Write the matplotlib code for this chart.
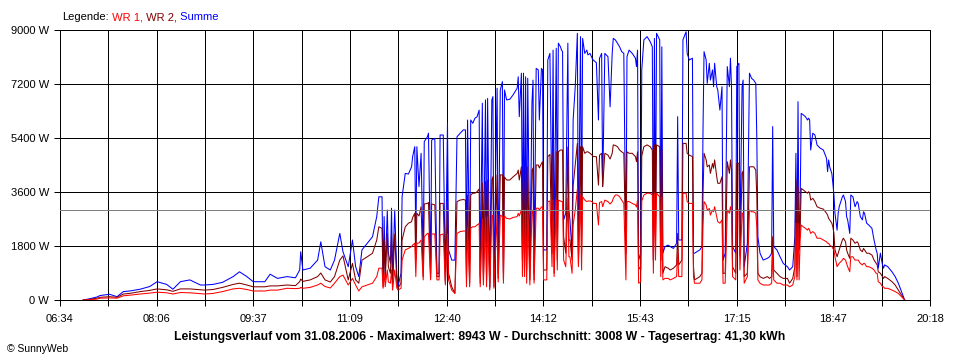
import matplotlib
matplotlib.use("Agg")
import matplotlib.pyplot as plt
import numpy as np

# sample times (HH:MM) and power in W
times = [
    "06:56", "07:02", "07:09", "07:12", "07:21", "07:28", "07:34", "07:40", "07:50", "07:59",
    "08:06", "08:15", "08:21", "08:28", "08:37", "08:47", "08:51", "08:59", "09:08", "09:18",
    "09:24", "09:31", "09:37", "09:48", "09:53", "10:00", "10:09", "10:17", "10:21", "10:22",
    "10:24", "10:31", "10:38", "10:41", "10:45", "10:50", "10:54", "10:59", "11:02", "11:07",
    "11:11", "11:14", "11:17", "11:20", "11:25", "11:30", "11:34", "11:36", "11:39", "11:40",
    "11:41", "11:42", "11:44", "11:45", "11:47", "11:48", "11:49", "11:51", "11:53", "11:54",
    "11:57", "11:58", "12:01", "12:04", "12:07", "12:08", "12:10", "12:11", "12:12", "12:14",
    "12:16", "12:18", "12:19", "12:22", "12:23", "12:25", "12:26", "12:29", "12:31", "12:33",
    "12:34", "12:37", "12:39", "12:41", "12:42", "12:45", "12:48", "12:50", "12:53", "12:56",
    "12:58", "12:59", "13:00", "13:02", "13:03", "13:05", "13:07", "13:09", "13:11", "13:12",
    "13:14", "13:15", "13:17", "13:18", "13:19", "13:21", "13:23", "13:24", "13:25", "13:28",
    "13:29", "13:31", "13:33", "13:34", "13:35", "13:37", "13:40", "13:43", "13:47", "13:48",
    "13:49", "13:51", "13:52", "13:53", "13:54", "13:55", "13:56", "13:57", "13:59", "14:01",
    "14:02", "14:03", "14:05", "14:07", "14:08", "14:10", "14:11", "14:12", "14:15", "14:16",
    "14:18", "14:20", "14:21", "14:22", "14:24", "14:25", "14:26", "14:28", "14:29", "14:30",
    "14:31", "14:33", "14:35", "14:36", "14:37", "14:39", "14:40", "14:42", "14:44", "14:45",
    "14:47", "14:48", "14:49", "14:51", "14:53", "14:54", "14:56", "14:58", "14:59", "15:02",
    "15:04", "15:05", "15:07", "15:08", "15:10", "15:13", "15:15", "15:17", "15:18", "15:20",
    "15:22", "15:24", "15:26", "15:28", "15:30", "15:31", "15:33", "15:36", "15:39", "15:40",
    "15:41", "15:42", "15:44", "15:45", "15:47", "15:50", "15:53", "15:55", "15:56", "15:57",
    "15:58", "15:59", "16:02", "16:03", "16:04", "16:05", "16:07", "16:10", "16:12", "16:15",
    "16:18", "16:19", "16:20", "16:23", "16:24", "16:27", "16:28", "16:30", "16:33", "16:34",
    "16:35", "16:40", "16:42", "16:43", "16:44", "16:46", "16:47", "16:49", "16:50", "16:52",
    "16:53", "16:54", "16:56", "16:57", "16:59", "17:01", "17:02", "17:04", "17:06", "17:08",
    "17:09", "17:10", "17:11", "17:14", "17:15", "17:17", "17:18", "17:20", "17:21", "17:22",
    "17:25", "17:27", "17:29", "17:31", "17:33", "17:34", "17:35", "17:37", "17:40", "17:44",
    "17:46", "17:48", "17:49", "17:50", "17:53", "17:56", "17:59", "18:03", "18:05", "18:08",
    "18:10", "18:11", "18:12", "18:13", "18:14", "18:15", "18:16", "18:18", "18:20", "18:22",
    "18:23", "18:24", "18:25", "18:27", "18:29", "18:31", "18:34", "18:37", "18:40", "18:41",
    "18:42", "18:43", "18:45", "18:46", "18:47", "18:48", "18:50", "18:51", "18:52", "18:55",
    "18:56", "18:58", "18:59", "19:00", "19:02", "19:03", "19:05", "19:07", "19:09", "19:10",
    "19:12", "19:14", "19:15", "19:16", "19:18", "19:20", "19:23", "19:25", "19:27", "19:28",
    "19:29", "19:31", "19:33", "19:34", "19:35", "19:38", "19:42", "19:45", "19:48", "19:51",
    "19:54",
]

summe = [
    0, 40, 100, 150, 190, 110, 280, 300, 360, 450,
    610, 520, 360, 610, 670, 500, 500, 520, 590, 780,
    940, 780, 610, 610, 860, 720, 780, 740, 1000, 1610,
    1000, 1060, 1330, 1940, 1110, 1000, 1330, 2220, 1610, 1110,
    2000, 1110, 780, 1670, 1890, 2110, 2780, 3440, 3440, 670,
    2780, 890, 3000, 1560, 1220, 3060, 780, 3000, 890, 440,
    890, 3440, 4220, 4200, 4440, 4780, 5110, 1890, 5110, 3780,
    4890, 1330, 5280, 5440, 5560, 890, 5330, 5390, 890, 890,
    5500, 5500, 670, 5890, 1670, 1330, 1330, 5440, 5560, 5670,
    5670, 1560, 6000, 1330, 6000, 5890, 6060, 6110, 6330, 780,
    6560, 890, 6670, 670, 6720, 440, 6670, 6780, 670, 7060,
    890, 7000, 7280, 890, 7000, 6670, 6690, 6830, 7060, 7440,
    6110, 7560, 1890, 7560, 1560, 7440, 1330, 7390, 1110, 6560,
    7330, 890, 7720, 7670, 6000, 7720, 7670, 1670, 1670, 8000,
    8220, 2670, 8330, 1560, 8390, 2440, 8560, 8440, 8330, 8280,
    2670, 2890, 8560, 3000, 2670, 1560, 6000, 7110, 8890, 1560,
    8780, 2110, 8720, 8220, 8330, 8170, 8220, 8060, 8000, 7910,
    6000, 8060, 8220, 3780, 8220, 8110, 6440, 8220, 8720, 8670,
    8560, 8440, 8280, 8220, 1560, 8110, 8330, 8220, 8060, 7780,
    8330, 1330, 1560, 7670, 8670, 8780, 8610, 8440, 1330, 8720,
    2330, 8890, 8670, 1330, 8440, 1560, 1780, 1830, 1780, 1720,
    1890, 6110, 2000, 2000, 8670, 8943, 8220, 8000, 8060, 1560,
    1560, 1670, 1780, 5670, 8280, 8000, 7220, 7890, 7330, 7670,
    7110, 7890, 7110, 7000, 6330, 7110, 1330, 1560, 7780, 7110,
    8060, 7110, 1780, 1560, 7780, 7890, 2000, 7110, 7330, 1110,
    1890, 7560, 7390, 7330, 7220, 5330, 2110, 1560, 1330, 1390,
    1440, 1560, 5780, 1780, 1670, 1440, 1220, 1110, 1000, 1110,
    2110, 4890, 1560, 6610, 1670, 3110, 6220, 6170, 6110, 6000,
    6060, 6000, 5000, 5560, 5500, 5170, 5060, 5000, 4720, 4280,
    4670, 4440, 4220, 3890, 3500, 2890, 2330, 2890, 3110, 3440,
    3500, 3280, 2780, 2670, 2220, 3500, 3440, 3110, 3280, 3220,
    2780, 2670, 2940, 2890, 2560, 2500, 2390, 2000, 1670, 1560,
    1060, 1560, 1170, 1060, 1170, 1110, 940, 780, 560, 280,
    0,
]

wr2 = [
    0, 20, 60, 90, 110, 90, 200, 220, 280, 320,
    370, 340, 290, 370, 370, 340, 330, 350, 420, 520,
    560, 500, 440, 440, 470, 470, 500, 480, 610, 700,
    620, 670, 780, 900, 670, 600, 780, 1330, 1470, 670,
    1220, 670, 560, 1330, 1440, 1560, 2000, 2440, 2390, 440,
    2000, 670, 2220, 1100, 890, 2220, 440, 2200, 600, 390,
    560, 2000, 2440, 2560, 2610, 2750, 2890, 1330, 2890, 2800,
    3110, 780, 3200, 3220, 3250, 720, 3200, 3170, 780, 780,
    3220, 3220, 560, 3300, 890, 440, 220, 3280, 3330, 3350,
    3330, 670, 3500, 560, 3500, 3560, 3560, 3610, 3700, 560,
    3900, 670, 3950, 670, 4000, 390, 4000, 4110, 440, 4170,
    720, 4170, 4170, 670, 4100, 4000, 4000, 4100, 4220, 4330,
    4000, 4440, 1330, 4440, 1110, 4440, 1000, 4440, 670, 4300,
    4400, 670, 4500, 4500, 4400, 4550, 4610, 1000, 1000, 4780,
    4850, 1560, 4890, 890, 4940, 1330, 4940, 5000, 5000, 5000,
    2110, 1560, 5100, 2000, 2000, 1330, 3800, 4500, 5220, 1220,
    5110, 1560, 5110, 4890, 4940, 4940, 4890, 4830, 4780, 4780,
    3830, 4830, 4890, 3780, 4890, 4830, 4700, 4890, 5170, 5150,
    5110, 5000, 4940, 4890, 1560, 4940, 4890, 4890, 4780, 4610,
    4940, 1110, 1000, 4800, 5110, 5170, 5110, 5000, 1330, 5170,
    2110, 5170, 5110, 1330, 5000, 890, 1110, 1060, 1000, 1060,
    1170, 2220, 1170, 1330, 5220, 5220, 4890, 4830, 4780, 1110,
    670, 780, 890, 3500, 4890, 4670, 4440, 4500, 4220, 4550,
    4390, 4670, 4110, 3890, 3890, 4110, 890, 890, 4610, 4220,
    4670, 4330, 1110, 890, 4550, 4560, 1500, 4220, 4300, 780,
    890, 4440, 4440, 4440, 4330, 3440, 890, 780, 720, 780,
    720, 780, 2110, 1000, 890, 780, 720, 720, 560, 720,
    1110, 4000, 780, 3780, 1670, 2330, 3720, 3670, 3610, 3560,
    3610, 3560, 3330, 3390, 3280, 3110, 3060, 3030, 2890, 2830,
    2720, 2670, 2560, 2440, 2220, 1670, 1440, 1560, 1670, 2000,
    2060, 1940, 1670, 1560, 1390, 2060, 2000, 1890, 1940, 1890,
    1670, 1610, 1720, 1670, 1560, 1560, 1500, 1330, 1220, 1170,
    940, 890, 780, 720, 780, 720, 610, 500, 330, 170,
    0,
]

wr1 = [
    0, 10, 30, 60, 70, 60, 140, 160, 200, 230,
    260, 240, 200, 250, 240, 210, 200, 220, 280, 370,
    390, 350, 300, 300, 330, 330, 390, 380, 390, 420,
    390, 420, 500, 560, 450, 400, 560, 780, 830, 500,
    720, 500, 300, 440, 500, 560, 780, 1060, 1060, 390,
    900, 440, 1000, 600, 560, 1000, 330, 1000, 400, 330,
    390, 1330, 1670, 1720, 1780, 1830, 1890, 780, 1890, 1900,
    2000, 670, 2100, 2220, 2220, 670, 2200, 2200, 670, 670,
    2170, 2200, 500, 2200, 670, 330, 220, 2220, 2280, 2300,
    2300, 440, 2400, 440, 2400, 2440, 2440, 2500, 2550, 440,
    2700, 500, 2750, 440, 2780, 330, 2800, 2830, 390, 2830,
    600, 2830, 2780, 560, 2800, 2720, 2700, 2750, 2780, 2890,
    2800, 3000, 780, 3000, 780, 3000, 560, 3000, 500, 2900,
    3000, 560, 3060, 3060, 3000, 3100, 3110, 670, 670, 3280,
    3300, 1110, 3330, 780, 3330, 1000, 3330, 3300, 3280, 3280,
    1330, 1110, 3400, 1440, 1440, 890, 2500, 3000, 3700, 1110,
    3500, 1000, 3440, 3330, 3280, 3300, 3300, 3280, 3220, 3220,
    2500, 3250, 3280, 3110, 3330, 3280, 3200, 3280, 3390, 3500,
    3500, 3440, 3330, 3220, 670, 3280, 3280, 3220, 3170, 3100,
    3330, 560, 600, 3300, 3500, 3560, 3560, 3500, 890, 3560,
    1330, 3560, 3440, 780, 3440, 670, 720, 720, 670, 720,
    780, 1670, 780, 780, 3560, 3560, 3280, 3220, 3220, 780,
    560, 560, 670, 2500, 3280, 3170, 3000, 3050, 2830, 3000,
    2940, 3110, 2780, 2610, 2560, 2670, 560, 560, 3000, 2890,
    3110, 2900, 780, 670, 3000, 3000, 1000, 2890, 2900, 560,
    780, 3000, 2940, 2940, 2890, 2440, 670, 560, 500, 500,
    500, 560, 1560, 670, 560, 560, 500, 500, 440, 500,
    780, 2560, 670, 2560, 670, 2000, 2500, 2440, 2390, 2330,
    2390, 2330, 2220, 2280, 2220, 2060, 2060, 2000, 1940, 1890,
    1890, 1830, 1780, 1720, 1670, 1440, 1110, 1170, 1220, 1330,
    1390, 1330, 1220, 1110, 940, 1440, 1440, 1330, 1330, 1330,
    1220, 1170, 1220, 1220, 1110, 1110, 1060, 1000, 890, 890,
    610, 560, 440, 440, 390, 390, 330, 280, 220, 110,
    0,
]

y_ticks = [0, 1800, 3600, 5400, 7200, 9000]
x_labels = ["06:34", "08:06", "09:37", "11:09", "12:40",
            "14:12", "15:43", "17:15", "18:47", "20:18"]
average = 3008
title = ("Leistungsverlauf vom 31.08.2006 - Maximalwert: 8943 W - "
         "Durchschnitt: 3008 W - Tagesertrag: 41,30 kWh")

assert len(times) == len(summe) == len(wr1) == len(wr2)


def to_min(s):
    h, m = s.split(":")
    return int(h) * 60 + int(m)


t = np.array([to_min(s) for s in times])
t0, t1 = to_min(x_labels[0]), to_min(x_labels[-1])

plt.rcParams["font.family"] = ["Liberation Sans", "DejaVu Sans"]
plt.rcParams["font.size"] = 8

fig = plt.figure(figsize=(9.6, 3.6), dpi=100, facecolor="white")
ax = fig.add_axes([60 / 960, 60 / 360, 870 / 960, 270 / 360])

px = 0.72  # one pixel at 100 dpi
ax.plot(t, summe, color="#0000ff", lw=0.75, zorder=2)
ax.plot(t, wr2, color="#800000", lw=0.75, zorder=3)
ax.plot(t, wr1, color="#ff0000", lw=0.75, zorder=4)
ax.axhline(average, color="#808080", lw=px, antialiased=False, zorder=5)

ax.set_xlim(t0, t1)
ax.set_ylim(0, 9000)

# 18 intervals on the time axis, every second one labelled
xt = np.linspace(t0, t1, 19)
ax.set_xticks(xt)
ax.set_xticklabels([x_labels[i // 2] if i % 2 == 0 else "" for i in range(19)])
ax.set_yticks(y_ticks)
ax.set_yticklabels([f"{v} W" for v in y_ticks])

ax.set_axisbelow(True)
ax.grid(True, color="black", lw=px, antialiased=False)
ax.tick_params(direction="out", length=4, width=px, color="black")
ax.tick_params(axis="x", pad=6)
ax.tick_params(axis="y", pad=4)
for sp in ax.spines.values():
    sp.set_color("black")
    sp.set_linewidth(px)
    sp.set_antialiased(False)

# legend line at the top
leg = fig.text(62 / 960, 1 - 20.5 / 360, "Legende:", color="black", va="baseline")
prev = leg
for txt, col in [(" WR 1,", "#ff0000"), (" WR 2,", "#800000"), (" Summe", "#0000ff")]:
    prev = ax.annotate(txt, xy=(1, 0), xycoords=prev, va="bottom", ha="left",
                       color=col, annotation_clip=False)

fig.text(0.5, 1 - 340 / 360, title, ha="center", va="baseline",
         fontweight="bold", fontsize=8.8)
fig.text(7 / 960, 1 - 352.5 / 360, "\u00a9 SunnyWeb", va="baseline", fontsize=7.5)

fig.savefig("out.png", dpi=100, facecolor="white")
